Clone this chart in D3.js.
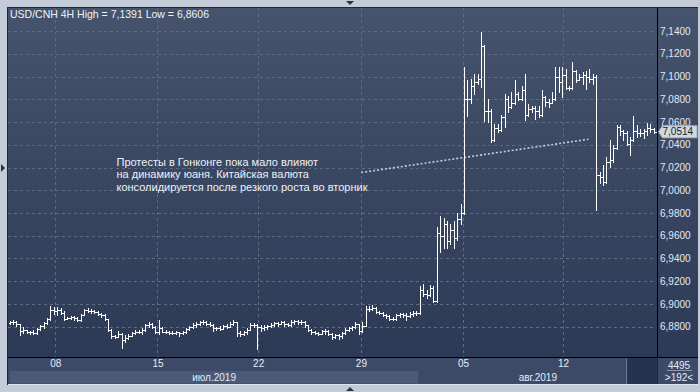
<!DOCTYPE html>
<html><head><meta charset="utf-8">
<script src="https://cdn.jsdelivr.net/npm/d3@7"></script>
<style>html,body{margin:0;padding:0;background:#c3cbd9;overflow:hidden}svg{display:block}</style>
</head><body><svg id="c" width="700" height="392"></svg>
<script>
// ---- data ----
const title = "USD/CNH 4H High = 7,1391 Low = 6,8606";
const opens = [6.8830,6.8838,6.8845,6.8822,6.8760,6.8768,6.8752,6.8750,6.8748,6.8780,6.8805,6.8830,6.8868,6.8950,6.8940,6.8945,6.8925,6.8872,6.8875,6.8882,6.8878,6.8858,6.8905,6.8945,6.8940,6.8935,6.8928,6.8912,6.8900,6.8870,6.8772,6.8715,6.8712,6.8740,6.8680,6.8702,6.8722,6.8745,6.8752,6.8758,6.8770,6.8812,6.8828,6.8800,6.8758,6.8790,6.8758,6.8752,6.8748,6.8745,6.8750,6.8742,6.8752,6.8778,6.8800,6.8818,6.8825,6.8838,6.8842,6.8825,6.8815,6.8785,6.8788,6.8782,6.8805,
6.8800,6.8825,6.8840,6.8745,6.8738,6.8752,6.8775,6.8812,6.8818,6.8795,6.8792,6.8798,6.8805,6.8818,6.8832,6.8828,6.8840,6.8822,6.8815,6.8840,6.8848,6.8838,6.8842,6.8812,6.8772,6.8750,6.8745,6.8740,6.8760,6.8765,6.8740,6.8710,6.8725,6.8715,6.8742,6.8775,6.8788,6.8795,6.8820,6.8760,6.8810,6.8960,6.8952,6.8968,6.8930,6.8920,6.8905,6.8895,6.8872,6.8868,6.8900,6.8912,6.8905,6.8895,6.8915,6.8925,6.8920,6.9120,6.9090,6.9080,6.9140,6.9030,
6.9620,6.9600,6.9700,6.9550,6.9650,6.9580,6.9750,6.9800,7.0800,7.0800,7.0920,7.0950,7.0980,7.1265,7.0700,7.0700,7.0440,7.0550,7.0530,7.0640,7.0800,7.0730,7.0770,7.0850,7.0800,7.0880,7.0660,7.0710,7.0720,7.0700,7.0660,7.0820,7.0780,7.0770,7.0800,7.1000,7.0950,7.1010,7.0900,7.0900,7.1050,7.0970,7.1000,7.1010,7.1000,7.0980,7.1000,7.0130,7.0120,7.0070,7.0250,7.0270,7.0370,7.0560,7.0520,7.0500,7.0410,7.0440,7.0520,7.0500,7.0500,7.0520,7.0550,7.0540];
const highs = [6.8852,6.8858,6.8850,6.8828,6.8800,6.8775,6.8762,6.8770,6.8790,6.8815,6.8838,6.8878,6.8985,6.8975,6.8972,6.8962,6.8935,6.8890,6.8892,6.8895,6.8885,6.8912,6.8960,6.8962,6.8955,6.8950,6.8940,6.8925,6.8910,6.8872,6.8780,6.8730,6.8760,6.8745,6.8725,6.8738,6.8755,6.8768,6.8775,6.8790,6.8825,6.8845,6.8835,6.8805,6.8855,6.8800,6.8772,6.8765,6.8762,6.8765,6.8758,6.8760,6.8790,6.8810,6.8830,6.8840,6.8852,6.8855,6.8850,6.8840,6.8825,6.8800,6.8805,6.8815,6.8820,
6.8845,6.8862,6.8845,6.8760,6.8765,6.8790,6.8830,6.8835,6.8828,6.8815,6.8812,6.8818,6.8830,6.8840,6.8845,6.8852,6.8848,6.8830,6.8858,6.8860,6.8855,6.8855,6.8850,6.8815,6.8780,6.8762,6.8758,6.8775,6.8778,6.8770,6.8745,6.8740,6.8735,6.8750,6.8785,6.8800,6.8805,6.8840,6.8825,6.8840,6.8985,6.8982,6.8995,6.8972,6.8940,6.8932,6.8915,6.8900,6.8885,6.8912,6.8925,6.8925,6.8918,6.8930,6.8935,6.8938,6.9155,6.9175,6.9120,6.9165,6.9160,6.9680,
6.9770,6.9760,6.9730,6.9700,6.9730,6.9800,6.9880,7.1086,7.0965,7.0980,7.1020,7.1020,7.1391,7.1274,7.0800,7.0715,7.0580,7.0580,7.0660,7.0850,7.0830,7.0860,7.0970,7.0860,7.0920,7.1020,7.0760,7.0745,7.0745,7.0740,7.0877,7.0830,7.0800,7.0860,7.1080,7.1080,7.1080,7.1070,7.0920,7.1127,7.1060,7.1020,7.1040,7.1050,7.1070,7.1020,7.1010,7.0163,7.0222,7.0295,7.0440,7.0400,7.0574,7.0575,7.0530,7.0520,7.0470,7.0653,7.0570,7.0540,7.0540,7.0590,7.0580,7.0550];
const lows = [6.8822,6.8828,6.8810,6.8730,6.8745,6.8742,6.8738,6.8735,6.8740,6.8772,6.8790,6.8820,6.8862,6.8915,6.8905,6.8910,6.8860,6.8865,6.8868,6.8862,6.8848,6.8852,6.8900,6.8930,6.8925,6.8920,6.8905,6.8890,6.8860,6.8760,6.8705,6.8702,6.8708,6.8614,6.8665,6.8695,6.8715,6.8735,6.8745,6.8740,6.8765,6.8800,6.8790,6.8745,6.8735,6.8750,6.8745,6.8740,6.8735,6.8738,6.8722,6.8738,6.8748,6.8770,6.8792,6.8800,6.8815,6.8820,6.8812,6.8808,6.8760,6.8772,6.8770,6.8778,6.8790,
6.8795,6.8818,6.8720,6.8718,6.8728,6.8740,6.8770,6.8800,6.8606,6.8765,6.8775,6.8780,6.8795,6.8805,6.8810,6.8820,6.8805,6.8805,6.8810,6.8828,6.8820,6.8828,6.8800,6.8760,6.8738,6.8732,6.8728,6.8735,6.8740,6.8725,6.8690,6.8700,6.8695,6.8705,6.8735,6.8760,6.8770,6.8790,6.8740,6.8755,6.8805,6.8940,6.8945,6.8920,6.8910,6.8895,6.8880,6.8862,6.8855,6.8862,6.8890,6.8885,6.8862,6.8885,6.8895,6.8900,6.8915,6.9070,6.9050,6.9070,6.9020,6.9020,
6.9460,6.9490,6.9490,6.9530,6.9490,6.9560,6.9700,6.9790,7.0656,7.0770,7.0850,7.0935,7.0906,7.0610,7.0600,7.0420,7.0435,7.0510,7.0520,7.0560,7.0686,7.0720,7.0760,7.0790,7.0790,7.0620,7.0656,7.0686,7.0627,7.0640,7.0656,7.0740,7.0730,7.0765,7.0790,7.0860,7.0820,7.0890,7.0877,7.0890,7.0950,7.0965,7.0935,7.0890,7.0950,7.0935,6.9826,7.0060,7.0046,7.0060,7.0207,7.0245,7.0360,7.0490,7.0440,7.0400,7.0310,7.0430,7.0470,7.0480,7.0460,7.0490,7.0510,7.0500];
const closes = [6.8838,6.8845,6.8822,6.8760,6.8768,6.8752,6.8750,6.8748,6.8780,6.8805,6.8830,6.8868,6.8950,6.8940,6.8945,6.8925,6.8872,6.8875,6.8882,6.8878,6.8858,6.8905,6.8945,6.8940,6.8935,6.8928,6.8912,6.8900,6.8870,6.8772,6.8715,6.8712,6.8740,6.8680,6.8702,6.8722,6.8745,6.8752,6.8758,6.8770,6.8812,6.8828,6.8800,6.8758,6.8790,6.8758,6.8752,6.8748,6.8745,6.8750,6.8742,6.8752,6.8778,6.8800,6.8818,6.8825,6.8838,6.8842,6.8825,6.8815,6.8785,6.8788,6.8782,6.8805,6.8800,
6.8825,6.8840,6.8745,6.8738,6.8752,6.8775,6.8812,6.8818,6.8795,6.8792,6.8798,6.8805,6.8818,6.8832,6.8828,6.8840,6.8822,6.8815,6.8840,6.8848,6.8838,6.8842,6.8812,6.8772,6.8750,6.8745,6.8740,6.8760,6.8765,6.8740,6.8710,6.8725,6.8715,6.8742,6.8775,6.8788,6.8795,6.8820,6.8760,6.8810,6.8960,6.8952,6.8968,6.8930,6.8920,6.8905,6.8895,6.8872,6.8868,6.8900,6.8912,6.8905,6.8895,6.8915,6.8925,6.8920,6.9120,6.9090,6.9080,6.9140,6.9030,6.9620,
6.9600,6.9700,6.9550,6.9650,6.9580,6.9750,6.9800,7.0800,7.0800,7.0920,7.0950,7.0980,7.1265,7.0700,7.0700,7.0440,7.0550,7.0530,7.0640,7.0800,7.0730,7.0770,7.0850,7.0800,7.0880,7.0660,7.0710,7.0720,7.0700,7.0660,7.0820,7.0780,7.0770,7.0800,7.1000,7.0950,7.1010,7.0900,7.0900,7.1050,7.0970,7.1000,7.1010,7.1000,7.0980,7.1000,7.0130,7.0120,7.0070,7.0250,7.0270,7.0370,7.0560,7.0520,7.0500,7.0410,7.0440,7.0520,7.0500,7.0500,7.0520,7.0550,7.0540,7.0514];
const priceTicks = [6.88,6.90,6.92,6.94,6.96,6.98,7.00,7.02,7.04,7.06,7.08,7.10,7.12,7.14];
const dayLabels = ["08","15","22","29","05","12"];
const dayBarIndex = [13.45,43.6,73.3,103.6,133.7,163.2];
const monthLabels = ["июл.2019","авг.2019"];
const monthStartIndex = [0,121];
const lastPrice = 7.0514;
const barsInView = "4495";
const barsShown = ">192<";
const noteLines = ["Протесты в Гонконге пока мало влияют","на динамику юаня. Китайская валюта","консолидируется после резкого роста во вторник"];
const noteAnchor = {i: 32, v: 7.0215};
const trendFrom = {i: 104.2, v: 7.0156};
const trendTo = {i: 171.2, v: 7.0448};

// ---- layout ----
const W = 700, H = 392;
const L = 8, T = 8, R = 657.5, B = 357.5;
const svg = d3.select("#c");
const fmt = v => d3.format(".4f")(v).replace(".", ",");

const x = d3.scaleLinear().domain([0, 192]).range([L, L + 192*3.39]);
const y = d3.scaleLinear().domain([6.88, 7.14]).range([326.75, 31]);

const defs = svg.append("defs");
const g1 = defs.append("linearGradient").attr("id","bg").attr("x1",0).attr("y1",0).attr("x2",0).attr("y2",1);
g1.append("stop").attr("offset","0%").attr("stop-color","#46536c");
g1.append("stop").attr("offset","100%").attr("stop-color","#2c3a56");
defs.append("clipPath").attr("id","pc").append("rect").attr("x",L).attr("y",T).attr("width",R-L).attr("height",B-T);

// outer frame
svg.append("rect").attr("width",W).attr("height",H).attr("fill","#c3cbd9");
// plot + right axis background
svg.append("rect").attr("x",L).attr("y",T).attr("width",698-L).attr("height",B-T).attr("fill","url(#bg)");
// bottom rows
svg.append("rect").attr("x",L).attr("y",B).attr("width",698-L).attr("height",384-B).attr("fill","#3c4a67");
const mEnd = [x(monthStartIndex[1]), 627];
svg.append("rect").attr("x",10).attr("y",371).attr("width",mEnd[0]-10).attr("height",12.5).attr("fill","#4a5977");
svg.append("line").attr("x1",L).attr("x2",698).attr("y1",384.5).attr("y2",384.5).attr("stroke","#dfe4ec");
// dark scroll block
svg.append("rect").attr("x",627).attr("y",358).attr("width",30).attr("height",26).attr("fill","#263350");
svg.append("line").attr("x1",626.5).attr("x2",626.5).attr("y1",358).attr("y2",384).attr("stroke","#6d7a92");

// grid
const grid = svg.append("g").attr("stroke","#5d6b84").attr("stroke-dasharray","3,3").attr("stroke-width",1);
priceTicks.forEach(v => grid.append("line").attr("x1",L).attr("x2",R-2)
  .attr("y1",Math.round(y(v))+0.5).attr("y2",Math.round(y(v))+0.5));
dayBarIndex.forEach(i => grid.append("line").attr("y1",T).attr("y2",B)
  .attr("x1",Math.round(x(i+0.5))+0.5).attr("x2",Math.round(x(i+0.5))+0.5));

// trend dotted line
svg.append("line").attr("x1",x(trendFrom.i)).attr("y1",y(trendFrom.v)).attr("x2",x(trendTo.i)).attr("y2",y(trendTo.v))
  .attr("stroke","#c9ced8").attr("stroke-width",1.6).attr("stroke-dasharray","2,2");

// OHLC bars
const bars = svg.append("g").attr("clip-path","url(#pc)").attr("stroke","#ffffff").attr("stroke-width",1)
  .attr("shape-rendering","crispEdges");
closes.forEach((c,i) => {
  const cx = Math.round(x(i+0.5)) + 0.5;
  const gb = bars.append("g");
  gb.append("line").attr("x1",cx).attr("x2",cx).attr("y1",Math.round(y(highs[i]))).attr("y2",Math.round(y(lows[i]))+1);
  const yo = Math.round(y(opens[i]))+0.5, yc = Math.round(y(c))+0.5;
  gb.append("line").attr("x1",cx-2).attr("x2",cx).attr("y1",yo).attr("y2",yo);
  gb.append("line").attr("x1",cx).attr("x2",cx+2).attr("y1",yc).attr("y2",yc);
});

// annotation
const note = svg.append("text").attr("font-family","Liberation Sans, Arial, sans-serif").attr("font-size",11)
  .attr("fill","#eef1f6");
noteLines.forEach((t,k) => note.append("tspan").attr("x",x(noteAnchor.i)).attr("y",y(noteAnchor.v)+k*12.5).text(t));

// title
svg.append("text").attr("x",10).attr("y",18).attr("font-family","Liberation Sans, Arial, sans-serif")
  .attr("font-size",10.5).attr("fill","#eef2f8").text(title);

// borders
svg.append("line").attr("x1",7.5).attr("x2",7.5).attr("y1",7).attr("y2",385).attr("stroke","#1f2738");
svg.append("line").attr("x1",7).attr("x2",698).attr("y1",7.5).attr("y2",7.5).attr("stroke","#1f2738");
svg.append("line").attr("x1",R).attr("x2",R).attr("y1",T).attr("y2",B).attr("stroke","#000");
svg.append("line").attr("x1",L).attr("x2",698).attr("y1",B).attr("y2",B).attr("stroke","#000");
svg.append("line").attr("x1",R).attr("x2",R).attr("y1",B).attr("y2",384).attr("stroke","#1f2738");

// right price axis
const yAxis = d3.axisRight(y).tickValues(priceTicks).tickFormat(fmt).tickSize(0).tickPadding(2.5);
const ya = svg.append("g").attr("transform",`translate(${R},0)`).call(yAxis);
ya.select(".domain").remove();
ya.selectAll("text").attr("font-family","Liberation Sans, Arial, sans-serif").attr("font-size",10).attr("fill","#e2e9f6");

// last price label
const yl = y(lastPrice);
svg.append("path").attr("d",`M${R+1},${yl} L${R+5},${yl-6} L697,${yl-6} L697,${yl+6} L${R+5},${yl+6} Z`)
  .attr("fill","#d3d7de").attr("stroke","#aab2c0");
svg.append("text").attr("x",R+5).attr("y",yl+3.6).attr("font-family","Liberation Sans, Arial, sans-serif")
  .attr("font-size",10).attr("fill","#18202e").text(fmt(lastPrice));

// bottom date axis
const xAxis = d3.axisBottom(x).tickValues(dayBarIndex.map(i=>i+0.5)).tickFormat((d,k)=>dayLabels[k]).tickSize(0).tickPadding(2);
const xa = svg.append("g").attr("transform",`translate(0,${B})`).call(xAxis);
xa.select(".domain").remove();
xa.selectAll("text").attr("font-family","Liberation Sans, Arial, sans-serif").attr("font-size",10).attr("fill","#e6ecf7");

// month labels
const mStarts = [10, x(monthStartIndex[1])];
const mEnds = [x(monthStartIndex[1]), R];
monthLabels.forEach((m,k) => svg.append("text").attr("x",(mStarts[k]+mEnds[k])/2).attr("y",380.5)
  .attr("text-anchor","middle").attr("font-family","Liberation Sans, Arial, sans-serif").attr("font-size",10)
  .attr("fill","#e6ecf7").text(m));

// corner counters
svg.append("text").attr("x",679).attr("y",368.5).attr("text-anchor","middle").attr("font-family","Liberation Sans, Arial, sans-serif")
  .attr("font-size",10).attr("fill","#e6ecf7").text(barsInView);
svg.append("line").attr("x1",667).attr("x2",692).attr("y1",370.5).attr("y2",370.5).attr("stroke","#8a96ab");
svg.append("text").attr("x",679).attr("y",381).attr("text-anchor","middle").attr("font-family","Liberation Sans, Arial, sans-serif")
  .attr("font-size",10).attr("fill","#e6ecf7").text(barsShown);

// right light strip
svg.append("rect").attr("x",698).attr("y",0).attr("width",2).attr("height",H).attr("fill","#c3cbd9");

// small navigation triangles
const tri = svg.append("g").attr("fill","#2a3345");
tri.append("path").attr("d","M346,1 L354,1 L350,5 Z");
tri.append("path").attr("d","M346,391 L354,391 L350,387 Z");
tri.append("path").attr("d","M1,164 L1,172 L5,168 Z");
</script></body></html>
